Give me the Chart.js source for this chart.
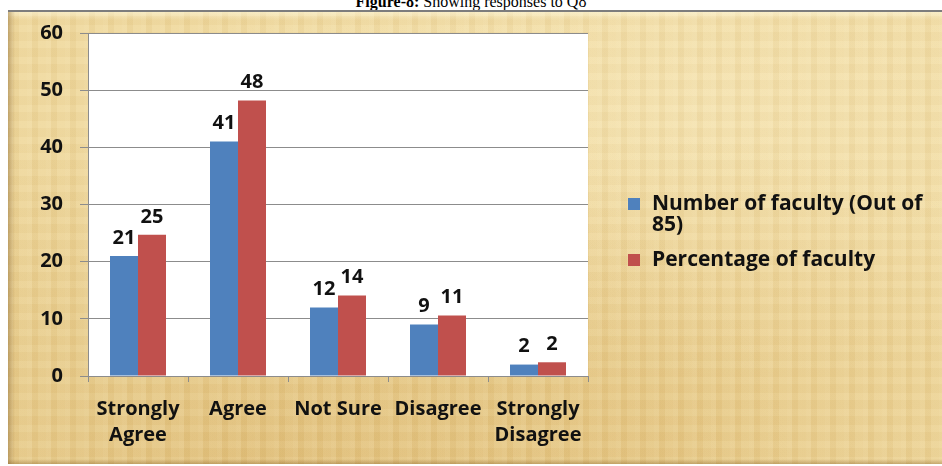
<!DOCTYPE html>
<html>
<head>
<meta charset="utf-8">
<script src="https://cdn.jsdelivr.net/npm/chart.js@4"></script>
<style>
  html, body { margin: 0; padding: 0; background: #fff; }
  .wrap { position: relative; width: 942px; height: 466px; overflow: hidden; }
  .title {
    position: absolute; top: -7px; left: 0; width: 942px; text-align: center;
    font: 16px "Liberation Serif", serif; color: #000;
  }
  .frame {
    position: absolute; left: 8px; top: 10px; width: 940px; height: 454px;
    border-top: 2px solid #7d7d7d; box-sizing: border-box;
    background-color: #efd89d;
    background-image:
      linear-gradient(90deg, rgba(120,80,20,0.4) 0, rgba(120,80,20,0) 7px),
      linear-gradient(0deg, rgba(120,80,20,0.35) 0, rgba(120,80,20,0) 5px),
      linear-gradient(180deg, rgba(255,250,225,0.5) 0, rgba(255,250,225,0) 8px),
      repeating-linear-gradient(90deg, rgba(255,250,225,0.10) 0 5px, rgba(170,125,45,0.05) 5px 11px, rgba(255,250,225,0.06) 11px 19px),
      repeating-linear-gradient(0deg, rgba(255,250,225,0.06) 0 7px, rgba(160,115,40,0.03) 7px 16px),
      radial-gradient(ellipse at 25% 100%, rgba(210,165,85,0.45), rgba(210,165,85,0) 55%),
      radial-gradient(ellipse at 70% 95%, rgba(215,170,90,0.3), rgba(215,170,90,0) 50%),
      radial-gradient(ellipse at 75% 20%, rgba(255,245,210,0.35), rgba(255,245,210,0) 55%);
  }
  canvas { position: absolute; left: 0; top: 0; }
</style>
</head>
<body>
<div class="wrap">
  <div class="title"><b>Figure-8:</b> Showing responses to Q8</div>
  <div class="frame"></div>
  <canvas id="chart" width="942" height="466"></canvas>
</div>
<script>
const categories = [['Strongly', 'Agree'], 'Agree', 'Not Sure', 'Disagree', ['Strongly', 'Disagree']];
const facultyCount = [21, 41, 12, 9, 2];
const facultyPercent = [24.7, 48.2, 14.1, 10.6, 2.4];
const seriesNames = ['Number of faculty (Out of 85)', 'Percentage of faculty'];
const seriesColors = ['#4f81bd', '#c0504d'];
const yTicks = [0, 10, 20, 30, 40, 50, 60];

const FONT = '"Open Sans", sans-serif';

// white plot background
const plotBg = {
  id: 'plotBg',
  beforeDraw(chart) {
    const { ctx, chartArea: a } = chart;
    ctx.save();
    ctx.fillStyle = '#ffffff';
    ctx.fillRect(a.left, a.top, a.right - a.left, a.bottom - a.top);
    ctx.restore();
  },
};

// value labels above bars
const barLabels = {
  id: 'barLabels',
  afterDatasetsDraw(chart) {
    const { ctx } = chart;
    ctx.save();
    ctx.font = 'bold 20px ' + FONT;
    ctx.fillStyle = '#111';
    ctx.textAlign = 'center';
    ctx.textBaseline = 'middle';
    chart.data.datasets.forEach((ds, i) => {
      chart.getDatasetMeta(i).data.forEach((bar, j) => {
        ctx.fillText(String(Math.round(ds.data[j])), bar.x, bar.y - 18);
      });
    });
    ctx.restore();
  },
};

// legend on the right with wrapped text
const sideLegend = {
  id: 'sideLegend',
  afterDraw(chart) {
    const { ctx } = chart;
    const x = 628, textX = 652, maxW = 285, lineH = 21;
    let y = 204;
    ctx.save();
    ctx.font = 'bold 21px ' + FONT;
    ctx.textBaseline = 'middle';
    chart.data.datasets.forEach((ds) => {
      const words = ds.label.split(' ');
      const lines = [];
      let line = '';
      words.forEach((w) => {
        const test = line ? line + ' ' + w : w;
        if (ctx.measureText(test).width > maxW && line) {
          lines.push(line);
          line = w;
        } else {
          line = test;
        }
      });
      lines.push(line);
      ctx.fillStyle = ds.backgroundColor;
      ctx.fillRect(x, y - 6, 12, 12);
      ctx.fillStyle = '#111';
      lines.forEach((l, k) => ctx.fillText(l, textX, y + k * lineH));
      y += lines.length * lineH + 14;
    });
    ctx.restore();
  },
};

new Chart(document.getElementById('chart'), {
  type: 'bar',
  data: {
    labels: categories,
    datasets: [
      { label: seriesNames[0], data: facultyCount, backgroundColor: seriesColors[0] },
      { label: seriesNames[1], data: facultyPercent, backgroundColor: seriesColors[1] },
    ],
  },
  options: {
    responsive: false,
    animation: false,
    layout: { padding: { top: 33, right: 354, bottom: 0, left: 0 } },
    datasets: { bar: { categoryPercentage: 0.56, barPercentage: 1.0 } },
    plugins: {
      legend: { display: false },
      tooltip: { enabled: false },
    },
    scales: {
      x: {
        grid: { offset: true, drawOnChartArea: false, drawTicks: true, tickLength: 6, color: '#8c8c8c' },
        border: { color: '#8c8c8c' },
        ticks: { color: '#111', font: { family: FONT, size: 20, weight: 'bold', lineHeight: 1.3 }, padding: 14, maxRotation: 0, autoSkip: false },
        afterFit(scale) { scale.height = 90; },
      },
      y: {
        min: yTicks[0],
        max: yTicks[yTicks.length - 1],
        afterBuildTicks(scale) { scale.ticks = yTicks.map((v) => ({ value: v })); },
        grid: { color: '#8c8c8c', tickLength: 8 },
        border: { color: '#8c8c8c' },
        ticks: { color: '#111', font: { family: FONT, size: 20, weight: 'bold' }, padding: 17 },
        afterFit(scale) { scale.width = 88; },
      },
    },
  },
  plugins: [plotBg, barLabels, sideLegend],
});
</script>
</body>
</html>
